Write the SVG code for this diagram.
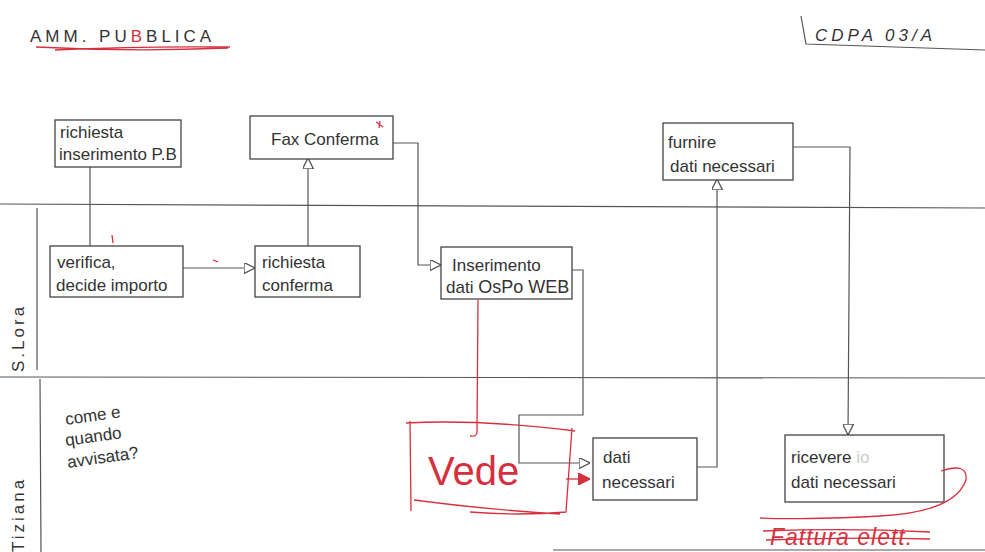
<svg xmlns="http://www.w3.org/2000/svg" width="985" height="552" viewBox="0 0 985 552">
  <style>
    .ln { fill: none; stroke: #555; stroke-width: 1.2; }
    .box { fill: #fff; stroke: #444; stroke-width: 1.3; }
    .t { font-family: "Liberation Sans", "DejaVu Sans", sans-serif; fill: #333; font-size: 17px; }
    .red { fill: none; stroke: #d6303e; stroke-width: 1.3; }
    .rt { font-family: "Liberation Sans", "DejaVu Sans", sans-serif; fill: #d6303e; }
  </style>
  <defs>
    <marker id="tri" viewBox="0 0 10 10" refX="10" refY="5" markerWidth="11" markerHeight="11" markerUnits="userSpaceOnUse" orient="auto">
      <path d="M0,0 L10,5 L0,10 Z" fill="#fff" stroke="#555" stroke-width="1.2"/>
    </marker>
    <marker id="redtri" viewBox="0 0 10 10" refX="10" refY="5" markerWidth="12" markerHeight="12" markerUnits="userSpaceOnUse" orient="auto">
      <path d="M0,0 L10,5 L0,10 Z" fill="#d6303e" stroke="#d6303e" stroke-width="1.2"/>
    </marker>
  </defs>

  <rect width="985" height="552" fill="#fff"/>

  <!-- header -->
  <g id="header">
    <text class="t" x="30" y="42" font-size="23" letter-spacing="4">AMM. PU<tspan fill="#d6303e">B</tspan>BLICA</text>
    <path class="red" d="M36,47 Q130,52 228,48 M55,50 Q140,46 230,47"/>
    <text class="t" x="815" y="41" font-size="24" font-style="italic" letter-spacing="4">CDPA 03/A</text>
    <path class="ln" d="M801,16 L806,44 L985,50"/>
  </g>

  <!-- swimlanes -->
  <g id="lanes">
    <path class="ln" stroke="#777" d="M0,204 L985,208"/>
    <path class="ln" stroke="#777" d="M0,377 L985,378"/>
    <path class="ln" stroke="#777" d="M553,550 L985,550"/>
    <path class="ln" stroke="#777" d="M37,208 L37,370 M40,379 L41,552"/>
    <text class="t" transform="translate(24,372) rotate(-90)" font-size="17" letter-spacing="3">S.Lora</text>
    <text class="t" transform="translate(24,552) rotate(-90)" font-size="17" letter-spacing="3">Tiziana</text>
    <text class="t" transform="translate(66,425) rotate(-8)" font-size="15">come e</text>
    <text class="t" transform="translate(66,446) rotate(-8)" font-size="15">quando</text>
    <text class="t" transform="translate(68,468) rotate(-8)" font-size="15">avvisata?</text>
  </g>

  <!-- connectors -->
  <g id="connectors">
    <path class="ln" d="M90,167 L90,246"/>
    <path class="ln" d="M183,268 L255,268" marker-end="url(#tri)"/>
    <path class="ln" d="M308,246 L308,158" marker-end="url(#tri)"/>
    <path class="ln" d="M393,143 L418,143 L418,265 L441,265" marker-end="url(#tri)"/>
    <path class="ln" d="M572,270 L583,270 L583,415 L519,415 L519,463 L590,463" marker-end="url(#tri)"/>
    <path class="ln" d="M697,467 L717,467 L717,179" marker-end="url(#tri)"/>
    <path class="ln" d="M793,147 L850,147 L848,435" marker-end="url(#tri)"/>
  </g>

  <!-- activity nodes -->
  <g id="richiesta-inserimento">
    <rect class="box" x="55" y="120" width="126" height="47"/>
    <text class="t" x="60" y="138" font-size="18">richiesta</text>
    <text class="t" x="59" y="160" font-size="17">inserimento P.B</text>
  </g>
  <g id="fax-conferma">
    <rect class="box" x="250" y="116" width="143" height="43"/>
    <text class="t" x="271" y="145" font-size="19">Fax Conferma</text>
  </g>
  <g id="fornire-dati">
    <rect class="box" x="663" y="123" width="130" height="57"/>
    <text class="t" x="668" y="148" font-size="18">furnire</text>
    <text class="t" x="670" y="172" font-size="17">dati necessari</text>
  </g>
  <g id="verifica">
    <rect class="box" x="50" y="246" width="133" height="51"/>
    <text class="t" x="57" y="268" font-size="17">verifica,</text>
    <text class="t" x="56" y="291" font-size="17">decide importo</text>
  </g>
  <g id="richiesta-conferma">
    <rect class="box" x="255" y="246" width="105" height="51"/>
    <text class="t" x="262" y="268" font-size="18">richiesta</text>
    <text class="t" x="262" y="291" font-size="18">conferma</text>
  </g>
  <g id="inserimento-dati">
    <rect class="box" x="441" y="247" width="131" height="52"/>
    <text class="t" x="452" y="271" font-size="18">Inserimento</text>
    <text class="t" x="446" y="293" font-size="13">dati <tspan font-size="18">OsPo WEB</tspan></text>
  </g>
  <g id="dati-necessari">
    <rect class="box" x="593" y="438" width="104" height="62"/>
    <text class="t" x="603" y="463" font-size="18">dati</text>
    <text class="t" x="602" y="488" font-size="18">necessari</text>
  </g>
  <g id="ricevere-dati">
    <rect class="box" x="785" y="435" width="159" height="67"/>
    <text class="t" x="791" y="463" font-size="18">ricevere <tspan fill="#ccc">io</tspan></text>
    <text class="t" x="791" y="488" font-size="18">dati necessari</text>
  </g>

  <!-- red review notes -->
  <g id="annotations">
    <path class="red" d="M478,300 L477,432 Q477,437 470,436"/>
    <path class="red" d="M406,423 Q480,419 575,431 M410,421 L411,511 M572,428 Q569,470 566,512 Q520,516 470,512 M414,500 Q490,510 560,514"/>
    <text class="rt" x="428" y="485" font-size="40">Vede</text>
    <path class="red" d="M566,479 L590,479" stroke-width="1.8" marker-end="url(#redtri)"/>
    <path class="red" d="M941,471 Q968,462 966,480 Q955,512 880,516 Q800,520 760,518"/>
    <text class="rt" x="770" y="545" font-size="23" font-style="italic" letter-spacing="1">Fattura elett.</text>
    <path class="red" d="M763,531 Q850,528 930,532 M766,540 Q850,537 930,539"/>
    <path class="red" d="M376,122 L383,127 M380,121 L379,128"/>
    <path class="red" d="M112,235 L113,243 M213,260 L218,262"/>
  </g>
</svg>
